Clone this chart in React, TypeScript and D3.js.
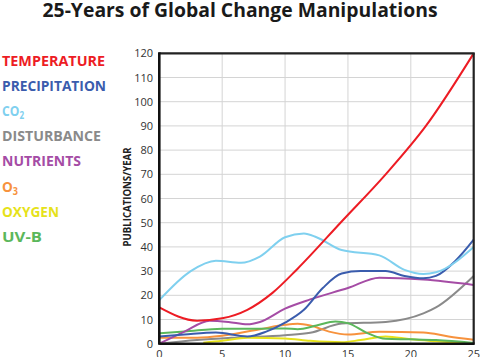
import React from "react";
import * as d3 from "d3";

const title = "25-Years of Global Change Manipulations";
const yAxisTitle = "PUBLICATIONS/YEAR";
const xTicks = [0, 5, 10, 15, 20, 25];
const yTicks = [0, 10, 20, 30, 40, 50, 60, 70, 80, 90, 100, 110, 120];

const seriesNames = ["TEMPERATURE", "PRECIPITATION", "CO2", "DISTURBANCE", "NUTRIENTS", "O3", "OXYGEN", "UV-B"];
const seriesColors = ["#ed1c24", "#3a5cad", "#7fd0ef", "#8a8a8a", "#a54ca5", "#f7923d", "#e6e21a", "#5bb75b"];

const temperature: [number, number][] = [[0, 15], [3, 9.5], [5, 10.5], [7, 14], [9, 21], [11, 31], [14.5, 50.5], [18, 70], [21.2, 90], [25, 120]];
const precipitation: [number, number][] = [[0, 3], [2, 3.8], [4.5, 4.6], [7, 3], [8.5, 5], [10, 8.7], [11.5, 14], [13, 23], [14.5, 29], [16, 30], [18, 30], [19.5, 28], [21, 27], [22, 28], [23.5, 34], [25, 43]];
const co2: [number, number][] = [[0, 18], [2.5, 30], [4.5, 34.3], [6.5, 33.4], [8, 36], [10, 44], [11.5, 45.5], [12.5, 44], [14.5, 38.7], [17.5, 36.5], [19.5, 30.5], [21, 28.8], [22, 29.5], [25, 40]];
const disturbance: [number, number][] = [[0, 0], [3, 1.5], [6, 2.5], [10, 3.5], [12, 4.5], [14.5, 8.3], [18, 9], [21, 12.5], [22, 15], [25, 28]];
const nutrients: [number, number][] = [[0, 0], [2, 5], [4, 9.5], [5.5, 9], [7, 8], [8, 9], [10, 14.5], [12, 18.3], [15, 23], [17.5, 27.3], [21, 26.5], [25, 24.3]];
const o3: [number, number][] = [[0, 2.5], [3, 2.5], [5, 3.3], [8, 6], [10, 7.8], [11, 8.2], [12, 7.5], [13.5, 5], [15, 3.8], [17.5, 4.9], [21, 4.6], [23, 3], [25, 1.6]];
const oxygen: [number, number][] = [[3.5, 0.4], [5, 1.2], [7, 2.5], [10, 2.2], [12, 1.2], [14.5, 0.6], [16, 1.5], [18, 3], [20, 1.8], [22, 1], [25, 0]];
const uvb: [number, number][] = [[0, 4.3], [2, 5], [5, 6.2], [8, 6.2], [10, 6.3], [11, 6], [12.5, 7.5], [14, 9.2], [15, 8.5], [16.5, 4.5], [18, 2], [20, 1.8], [22, 1.5], [25, 0.3]];

const seriesData = [temperature, precipitation, co2, disturbance, nutrients, o3, oxygen, uvb];
const drawOrder = [3, 6, 5, 7, 4, 1, 2, 0];
const legendWidths = [103, 104, 22, 99, 79, 16, 57, 40];

const W = 480;
const H = 357;
const FONT = "'Open Sans', 'DejaVu Sans', sans-serif";

export default function App() {
  const x = d3.scaleLinear().domain([0, 25]).range([159.3, 473.7]);
  const y = d3.scaleLinear().domain([0, 120]).range([343.7, 53.3]);
  const line = d3
    .line<[number, number]>()
    .x((d) => x(d[0]))
    .y((d) => y(d[1]))
    .curve(d3.curveMonotoneX);

  const renderLegendLabel = (name: string) => {
    if (name === "CO2") {
      return (
        <>
          CO<tspan fontSize={10} dy={3}>2</tspan>
        </>
      );
    }
    if (name === "O3") {
      return (
        <>
          O<tspan fontSize={10} dy={3}>3</tspan>
        </>
      );
    }
    return name;
  };

  return (
    <svg
      width={W}
      height={H}
      style={{ position: "absolute", left: 0, top: 0, background: "#fff" }}
      fontFamily={FONT}
    >
      <rect x={0} y={0} width={W} height={H} fill="#fff" />
      <text
        x={240}
        y={17}
        textAnchor="middle"
        fontSize={20}
        fontWeight={700}
        fill="#1a1a1a"
        textLength={395}
        lengthAdjust="spacingAndGlyphs"
      >
        {title}
      </text>

      {/* legend */}
      {seriesNames.map((name, i) => (
        <text
          key={name}
          x={2}
          y={66 + i * 25.1}
          fontSize={15}
          fontWeight={700}
          fill={seriesColors[i]}
          textLength={legendWidths[i]}
          lengthAdjust="spacingAndGlyphs"
        >
          {renderLegendLabel(name)}
        </text>
      ))}

      {/* grid */}
      {yTicks.map((t) => (
        <line key={"gy" + t} x1={x(0)} x2={x(25)} y1={y(t)} y2={y(t)} stroke="#d4d4d4" strokeWidth={1} />
      ))}
      {xTicks.map((t) => (
        <line key={"gx" + t} x1={x(t)} x2={x(t)} y1={y(0)} y2={y(120)} stroke="#d4d4d4" strokeWidth={1} />
      ))}

      {/* series */}
      {drawOrder.map((i) => (
        <path
          key={seriesNames[i]}
          d={line(seriesData[i]) || ""}
          fill="none"
          stroke={seriesColors[i]}
          strokeWidth={2}
        />
      ))}

      {/* frame */}
      <line x1={x(0)} x2={x(25) + 1} y1={y(120)} y2={y(120)} stroke="#222" strokeWidth={2.2} />
      <line x1={x(25)} x2={x(25)} y1={y(120)} y2={y(0)} stroke="#222" strokeWidth={2.2} />
      <line x1={x(0)} x2={x(25) + 1} y1={y(0)} y2={y(0)} stroke="#111" strokeWidth={2.6} />
      <line x1={x(0)} x2={x(0)} y1={y(120) - 1} y2={y(0) + 1} stroke="#111" strokeWidth={2.6} />

      {/* y tick labels */}
      {yTicks.map((t) => (
        <text key={"yl" + t} x={153} y={y(t) + 4} textAnchor="end" fontSize={11} fill="#333">
          {t}
        </text>
      ))}
      {/* x tick labels */}
      {xTicks.map((t) => (
        <text key={"xl" + t} x={x(t)} y={358} textAnchor="middle" fontSize={11} fill="#333">
          {t}
        </text>
      ))}

      <text
        transform="translate(131,197) rotate(-90)"
        textAnchor="middle"
        fontSize={10.5}
        fontWeight={700}
        fill="#222"
        textLength={99}
        lengthAdjust="spacingAndGlyphs"
      >
        {yAxisTitle}
      </text>
    </svg>
  );
}
